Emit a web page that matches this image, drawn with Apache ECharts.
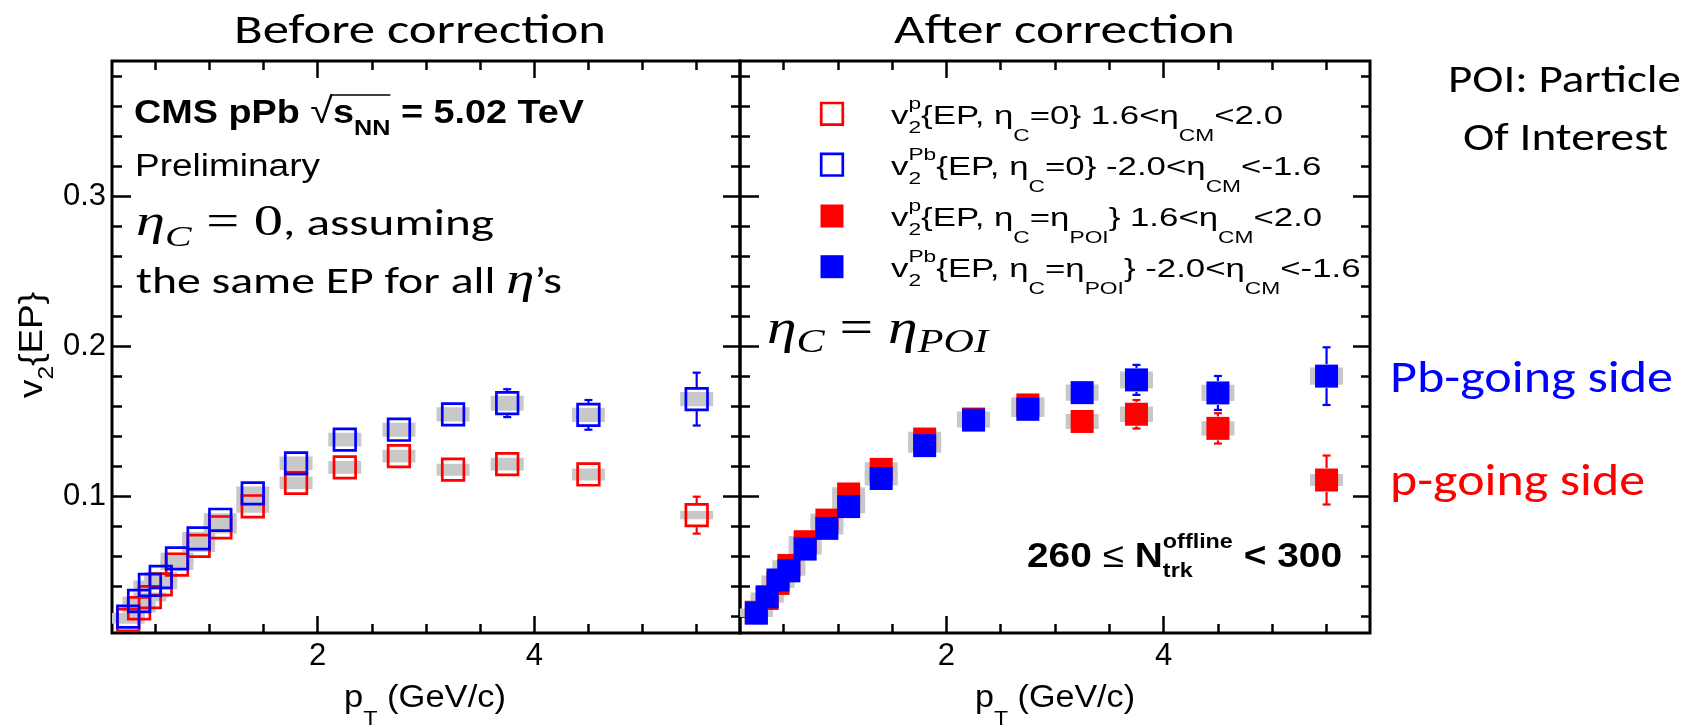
<!DOCTYPE html>
<html><head><meta charset="utf-8">
<script src="https://cdn.jsdelivr.net/npm/echarts@6/dist/echarts.min.js"></script>
<style>html,body{margin:0;padding:0;background:#fff}#c{width:1694px;height:725px}</style>
</head><body><div id="c"></div>
<script>
// ---------------- data ----------------
const pT = [0.25, 0.35, 0.45, 0.55, 0.7, 0.9, 1.1, 1.4, 1.8, 2.25, 2.75, 3.25, 3.75, 4.5, 5.5];

// Before correction: eta_C = 0
const v2_p_etaC0  = [0.0177, 0.0255, 0.0329, 0.0414, 0.0546, 0.0670, 0.0794, 0.0934, 0.1090, 0.1193, 0.1268, 0.1178, 0.1215, 0.1146, 0.0875];
const v2_Pb_etaC0 = [0.0199, 0.0303, 0.0410, 0.0463, 0.0587, 0.0720, 0.0844, 0.1020, 0.1220, 0.1378, 0.1444, 0.1546, 0.1621, 0.1543, 0.1648];
const stat_p_etaC0  = [0.0005, 0.0005, 0.0006, 0.0007, 0.0008, 0.0009, 0.0010, 0.0012, 0.0015, 0.0020, 0.0028, 0.0038, 0.0055, 0.0065, 0.0123];
const stat_Pb_etaC0 = [0.0005, 0.0005, 0.0006, 0.0007, 0.0008, 0.0009, 0.0010, 0.0012, 0.0016, 0.0022, 0.0032, 0.0048, 0.0093, 0.0099, 0.0176];
const sys_p_etaC0   = [0.0025, 0.0028, 0.0030, 0.0033, 0.0037, 0.0040, 0.0042, 0.0043, 0.0043, 0.0043, 0.0043, 0.0040, 0.0042, 0.0040, 0.0028];
const sys_Pb_etaC0  = [0.0025, 0.0028, 0.0030, 0.0033, 0.0038, 0.0042, 0.0044, 0.0045, 0.0046, 0.0046, 0.0047, 0.0048, 0.0050, 0.0048, 0.0048];

// After correction: eta_C = eta_POI
const v2_p_etaPOI  = [0.0228, 0.0320, 0.0420, 0.0540, 0.0698, 0.0842, 0.1016, 0.1180, 0.1382, 0.1515, 0.1609, 0.1499, 0.1547, 0.1453, 0.1109];
const v2_Pb_etaPOI = [0.0222, 0.0331, 0.0443, 0.0504, 0.0649, 0.0787, 0.0932, 0.1119, 0.1338, 0.1508, 0.1580, 0.1691, 0.1776, 0.1689, 0.1801];
const stat_p_etaPOI  = [0.0005, 0.0005, 0.0006, 0.0007, 0.0008, 0.0009, 0.0010, 0.0012, 0.0016, 0.0022, 0.0032, 0.0048, 0.0095, 0.0101, 0.0163];
const stat_Pb_etaPOI = [0.0005, 0.0005, 0.0006, 0.0007, 0.0008, 0.0009, 0.0010, 0.0012, 0.0016, 0.0022, 0.0032, 0.0048, 0.0100, 0.0113, 0.0192];
const sys_p_etaPOI   = [0.0025, 0.0028, 0.0030, 0.0034, 0.0038, 0.0042, 0.0045, 0.0047, 0.0048, 0.0050, 0.0051, 0.0050, 0.0051, 0.0048, 0.0040];
const sys_Pb_etaPOI  = [0.0025, 0.0028, 0.0030, 0.0033, 0.0037, 0.0041, 0.0044, 0.0046, 0.0048, 0.0049, 0.0051, 0.0054, 0.0056, 0.0054, 0.0058];

// axis ticks
const xRange = [0.1, 5.9];
const yRange = [0.009, 0.39];
const xMajorTicks = [2, 4];
const xMinorTicks = [0.5, 1, 1.5, 2.5, 3, 3.5, 4.5, 5, 5.5];
const yMajorTicks = [0.1, 0.2, 0.3];
const yMinorTicks = [0.02, 0.04, 0.06, 0.08, 0.12, 0.14, 0.16, 0.18, 0.22, 0.24, 0.26, 0.28, 0.32, 0.34, 0.36, 0.38];

// ---------------- styling ----------------
const RED = '#ff0000', BLUE = '#0000ff', GREY = '#c8c8c8';
const ROOTF = '"Liberation Sans", Arial, Helvetica, sans-serif';
const CALF = 'Carlito, Calibri, Lato, "Open Sans", sans-serif';
const MATHF = '"Liberation Serif", "DejaVu Serif", serif';

// text layout helper (rich, with sub/superscripts)
const mctx = document.createElement('canvas').getContext('2d');
function midOffset(font, t, size) {
  mctx.font = font;
  mctx.textBaseline = 'alphabetic';
  const a = mctx.measureText(t);
  mctx.textBaseline = 'middle';
  const b = mctx.measureText(t);
  mctx.textBaseline = 'alphabetic';
  if (a.fontBoundingBoxAscent != null && b.fontBoundingBoxAscent != null) {
    return a.fontBoundingBoxAscent - b.fontBoundingBoxAscent;
  }
  return size * 0.35;
}
function buildLine(segs, def) {
  let x = 0, stackW = null;
  const out = [], marks = {};
  for (const sg of segs) {
    const s = Object.assign({}, def, sg);
    const font = (s.i ? 'italic ' : '') + (s.b ? 'bold ' : '') + s.s + 'px ' + s.f;
    mctx.font = font;
    const w = mctx.measureText(s.t).width;
    const mid = midOffset(font, s.t, s.s);
    if (s.mark) marks[s.mark] = x;
    out.push({
      type: 'text', x: x, y: (s.dy || 0) - mid, silent: true,
      style: { text: s.t, font: font, fill: s.c || '#000', align: 'left', verticalAlign: 'middle', textAlign: 'left', textVerticalAlign: 'middle' }
    });
    if (s.stack) { stackW = w; }
    else { x += (stackW != null ? Math.max(w, stackW) : w); stackW = null; }
    if (s.markEnd) marks[s.markEnd] = x;
  }
  return { children: out, width: x, marks: marks };
}
function textBlock(segs, def, left, baseline, width, extra) {
  const L = buildLine(segs, def);
  const sx = width ? width / L.width : 1;
  const g = Object.assign({ type: 'group', x: left, y: baseline, scaleX: sx, children: L.children, silent: true }, extra || {});
  return { g: g, L: L, sx: sx };
}

const graphics = [];
function addText(segs, def, left, baseline, width, extra) {
  const r = textBlock(segs, def, left, baseline, width, extra);
  graphics.push(r.g);
  return r;
}

// Titles and side notes (Calibri-like)
addText([{ t: 'Before correction' }], { f: CALF, s: 41 }, 234, 43.3, 372);
addText([{ t: 'After correction' }], { f: CALF, s: 41 }, 894, 43.3, 341);
addText([{ t: 'POI: Particle' }], { f: CALF, s: 38 }, 1448, 91.7, 233);
addText([{ t: 'Of Interest' }], { f: CALF, s: 38 }, 1463, 150, 205);
addText([{ t: 'Pb-going side' }], { f: CALF, s: 45, c: BLUE }, 1390, 391.7, 283);
addText([{ t: 'p-going side' }], { f: CALF, s: 45, c: RED }, 1390, 495, 255);

// CMS label
const cms = addText([
  { t: 'CMS pPb ', b: true },
  { t: '\u221A', s: 36 },
  { t: 's', b: true, mark: 'ol0' },
  { t: 'NN', b: true, s: 22, dy: 12, markEnd: 'ol1' },
  { t: ' = 5.02 TeV', b: true }
], { f: ROOTF, s: 33 }, 134, 123, 450);
cms.g.children.push({ type: 'line', silent: true,
  shape: { x1: cms.L.marks.ol0 - 2, y1: -28, x2: cms.L.marks.ol1, y2: -28 },
  style: { stroke: '#000', lineWidth: 1.6 } });
addText([{ t: 'Preliminary' }], { f: ROOTF, s: 31 }, 135, 176, 185);

addText([
  { t: '\u03B7', f: MATHF, i: true, s: 44 },
  { t: 'C', f: MATHF, i: true, s: 30, dy: 11 },
  { t: ' = 0', f: MATHF, s: 44 },
  { t: ', assuming', f: CALF, s: 37 }
], { f: CALF, s: 37 }, 136, 235, 358);
addText([
  { t: 'the same EP for all ', f: CALF, s: 37 },
  { t: '\u03B7', f: MATHF, i: true, s: 44 },
  { t: '\u2019s', f: CALF, s: 37 }
], { f: CALF, s: 37 }, 136, 293.3, 426);
addText([
  { t: '\u03B7', f: MATHF, i: true, s: 48 },
  { t: 'C', f: MATHF, i: true, s: 34, dy: 9 },
  { t: ' = ', f: MATHF, s: 48 },
  { t: '\u03B7', f: MATHF, i: true, s: 48 },
  { t: 'POI', f: MATHF, i: true, s: 34, dy: 9 }
], { f: MATHF, s: 48 }, 767, 343, 221);

// Legend (right panel)
const SUP = { s: 17, dy: -15, stack: true }, SUB2 = { s: 17, dy: 9 }, SUBE = { s: 17, dy: 17 };
const legLines = [
  [{ t: 'v' }, Object.assign({ t: 'p' }, SUP), Object.assign({ t: '2' }, SUB2), { t: '{EP, \u03B7' }, Object.assign({ t: 'C' }, SUBE), { t: '=0} 1.6<\u03B7' }, Object.assign({ t: 'CM' }, SUBE), { t: '<2.0' }],
  [{ t: 'v' }, Object.assign({ t: 'Pb' }, SUP), Object.assign({ t: '2' }, SUB2), { t: '{EP, \u03B7' }, Object.assign({ t: 'C' }, SUBE), { t: '=0} -2.0<\u03B7' }, Object.assign({ t: 'CM' }, SUBE), { t: '<-1.6' }],
  [{ t: 'v' }, Object.assign({ t: 'p' }, SUP), Object.assign({ t: '2' }, SUB2), { t: '{EP, \u03B7' }, Object.assign({ t: 'C' }, SUBE), { t: '=\u03B7' }, Object.assign({ t: 'POI' }, SUBE), { t: '} 1.6<\u03B7' }, Object.assign({ t: 'CM' }, SUBE), { t: '<2.0' }],
  [{ t: 'v' }, Object.assign({ t: 'Pb' }, SUP), Object.assign({ t: '2' }, SUB2), { t: '{EP, \u03B7' }, Object.assign({ t: 'C' }, SUBE), { t: '=\u03B7' }, Object.assign({ t: 'POI' }, SUBE), { t: '} -2.0<\u03B7' }, Object.assign({ t: 'CM' }, SUBE), { t: '<-1.6' }]
];
const legY = [113.8, 164.7, 216, 266.7];
const legDef = { f: ROOTF, s: 26 };
const legScale = 392 / buildLine(legLines[0], legDef).width;
legLines.forEach((ln, k) => {
  const L = buildLine(ln, legDef);
  graphics.push({ type: 'group', x: 891, y: legY[k] + 10, scaleX: legScale, children: L.children, silent: true });
});
const legMarkers = [
  { c: RED, open: true }, { c: BLUE, open: true }, { c: RED, open: false }, { c: BLUE, open: false }
];
legMarkers.forEach((m, k) => {
  if (m.open) {
    graphics.push({ type: 'rect', silent: true, shape: { x: 832 - 10.8, y: legY[k] - 10.8, width: 21.6, height: 21.6 },
      style: { fill: 'none', stroke: m.c, lineWidth: 2.7 } });
  } else {
    graphics.push({ type: 'rect', silent: true, shape: { x: 832 - 11.5, y: legY[k] - 11.5, width: 23, height: 23 },
      style: { fill: m.c } });
  }
});

// 260 <= N_trk^offline < 300
addText([
  { t: '260 ', b: true },
  { t: '\u2264' },
  { t: ' N', b: true },
  { t: 'offline', b: true, s: 21, dy: -19, stack: true },
  { t: 'trk', b: true, s: 21, dy: 10 },
  { t: ' < 300', b: true }
], { f: ROOTF, s: 35 }, 1027, 566.7, 315);

// axis names
const xNameSegs = [{ t: 'p' }, { t: 'T', s: 21, dy: 18 }, { t: ' (GeV/c)' }];
addText(xNameSegs, { f: ROOTF, s: 31 }, 344, 706.7, 162);
addText(xNameSegs, { f: ROOTF, s: 31 }, 975, 706.7, 160);
addText([{ t: 'v' }, { t: '2', s: 22, dy: 11 }, { t: '{EP}' }], { f: ROOTF, s: 33 }, 42, 398, 106, { rotation: Math.PI / 2 });

// ---------------- axes ----------------
const tickStyle = { color: '#000', width: 2.5 };
function xAxesFor(g) {
  const base = { type: 'value', gridIndex: g, min: xRange[0], max: xRange[1], splitLine: { show: false },
    axisLine: { show: false, onZero: false } };
  return [
    Object.assign({}, base, { position: 'bottom',
      axisTick: { show: true, inside: true, length: 17, customValues: xMajorTicks, lineStyle: tickStyle },
      axisLabel: { show: true, customValues: xMajorTicks, fontSize: 31, fontFamily: ROOTF, color: '#000', margin: 8 } }),
    Object.assign({}, base, { position: 'bottom',
      axisTick: { show: true, inside: true, length: 9, customValues: xMinorTicks, lineStyle: tickStyle },
      axisLabel: { show: false } }),
    Object.assign({}, base, { position: 'top',
      axisTick: { show: true, inside: true, length: 17, customValues: xMajorTicks, lineStyle: tickStyle },
      axisLabel: { show: false } }),
    Object.assign({}, base, { position: 'top',
      axisTick: { show: true, inside: true, length: 9, customValues: xMinorTicks, lineStyle: tickStyle },
      axisLabel: { show: false } })
  ];
}
function yAxesFor(g, labels) {
  const base = { type: 'value', gridIndex: g, min: yRange[0], max: yRange[1], splitLine: { show: false },
    axisLine: { show: false, onZero: false } };
  return [
    Object.assign({}, base, { position: 'left',
      axisTick: { show: true, inside: true, length: 19, customValues: yMajorTicks, lineStyle: tickStyle },
      axisLabel: labels ? { show: true, customValues: yMajorTicks, fontSize: 31, fontFamily: ROOTF, color: '#000', margin: 6 } : { show: false } }),
    Object.assign({}, base, { position: 'left',
      axisTick: { show: true, inside: true, length: 10, customValues: yMinorTicks, lineStyle: tickStyle },
      axisLabel: { show: false } }),
    Object.assign({}, base, { position: 'right',
      axisTick: { show: true, inside: true, length: 17, customValues: yMajorTicks, lineStyle: tickStyle },
      axisLabel: { show: false } }),
    Object.assign({}, base, { position: 'right',
      axisTick: { show: true, inside: true, length: 9, customValues: yMinorTicks, lineStyle: tickStyle },
      axisLabel: { show: false } })
  ];
}

// ---------------- series ----------------
function sysSeries(g, ys, sys) {
  return { type: 'custom', xAxisIndex: g * 4, yAxisIndex: g * 4, z: 1, silent: true, clip: true,
    data: pT.map((x, i) => [x, ys[i], sys[i]]),
    renderItem: function (params, api) {
      const x = api.value(0), y = api.value(1), s = api.value(2);
      const a = api.coord([x, y + s]), b = api.coord([x, y - s]);
      const w = 33;
      return { type: 'rect', shape: { x: a[0] - w / 2, y: a[1], width: w, height: Math.max(b[1] - a[1], 2) },
        style: { fill: GREY } };
    } };
}
function statSeries(g, ys, err, color) {
  return { type: 'custom', xAxisIndex: g * 4, yAxisIndex: g * 4, z: 2, silent: true, clip: true,
    data: pT.map((x, i) => [x, ys[i], err[i]]),
    renderItem: function (params, api) {
      const x = api.value(0), y = api.value(1), e = api.value(2);
      const c = api.coord([x, y]);
      const top = api.coord([x, y + e])[1], bot = api.coord([x, y - e])[1];
      const half = 12, cap = 4, st = { stroke: color, lineWidth: 2.2 };
      const ch = [];
      if (c[1] - top > half) {
        ch.push({ type: 'line', shape: { x1: c[0], y1: c[1] - half, x2: c[0], y2: top }, style: st });
        ch.push({ type: 'line', shape: { x1: c[0] - cap, y1: top, x2: c[0] + cap, y2: top }, style: st });
      }
      if (bot - c[1] > half) {
        ch.push({ type: 'line', shape: { x1: c[0], y1: c[1] + half, x2: c[0], y2: bot }, style: st });
        ch.push({ type: 'line', shape: { x1: c[0] - cap, y1: bot, x2: c[0] + cap, y2: bot }, style: st });
      }
      return { type: 'group', children: ch };
    } };
}
function markerSeries(g, ys, color, open, z) {
  return { type: 'scatter', xAxisIndex: g * 4, yAxisIndex: g * 4, z: z, silent: true,
    symbol: 'rect', symbolSize: open ? 21.6 : 23,
    data: pT.map((x, i) => [x, ys[i]]),
    itemStyle: open ? { color: 'rgba(0,0,0,0)', borderColor: color, borderWidth: 2.7, opacity: 1 }
                    : { color: color, borderWidth: 0, opacity: 1 } };
}

const series = [
  sysSeries(0, v2_p_etaC0, sys_p_etaC0),
  sysSeries(0, v2_Pb_etaC0, sys_Pb_etaC0),
  statSeries(0, v2_p_etaC0, stat_p_etaC0, RED),
  statSeries(0, v2_Pb_etaC0, stat_Pb_etaC0, BLUE),
  markerSeries(0, v2_p_etaC0, RED, true, 3),
  markerSeries(0, v2_Pb_etaC0, BLUE, true, 4),
  sysSeries(1, v2_p_etaPOI, sys_p_etaPOI),
  sysSeries(1, v2_Pb_etaPOI, sys_Pb_etaPOI),
  statSeries(1, v2_p_etaPOI, stat_p_etaPOI, RED),
  statSeries(1, v2_Pb_etaPOI, stat_Pb_etaPOI, BLUE),
  markerSeries(1, v2_p_etaPOI, RED, false, 3),
  markerSeries(1, v2_Pb_etaPOI, BLUE, false, 4)
];

const chart = echarts.init(document.getElementById('c'), null, { renderer: 'canvas' });
chart.setOption({
  animation: false,
  backgroundColor: '#fff',
  grid: [
    { left: 112, top: 61, width: 628, height: 572, show: true, borderColor: '#000', borderWidth: 3, backgroundColor: 'rgba(0,0,0,0)', containLabel: false },
    { left: 740, top: 61, width: 630, height: 572, show: true, borderColor: '#000', borderWidth: 3, backgroundColor: 'rgba(0,0,0,0)', containLabel: false }
  ],
  xAxis: xAxesFor(0).concat(xAxesFor(1)),
  yAxis: yAxesFor(0, true).concat(yAxesFor(1, false)),
  series: series,
  graphic: { elements: graphics }
});
</script>
</body></html>
